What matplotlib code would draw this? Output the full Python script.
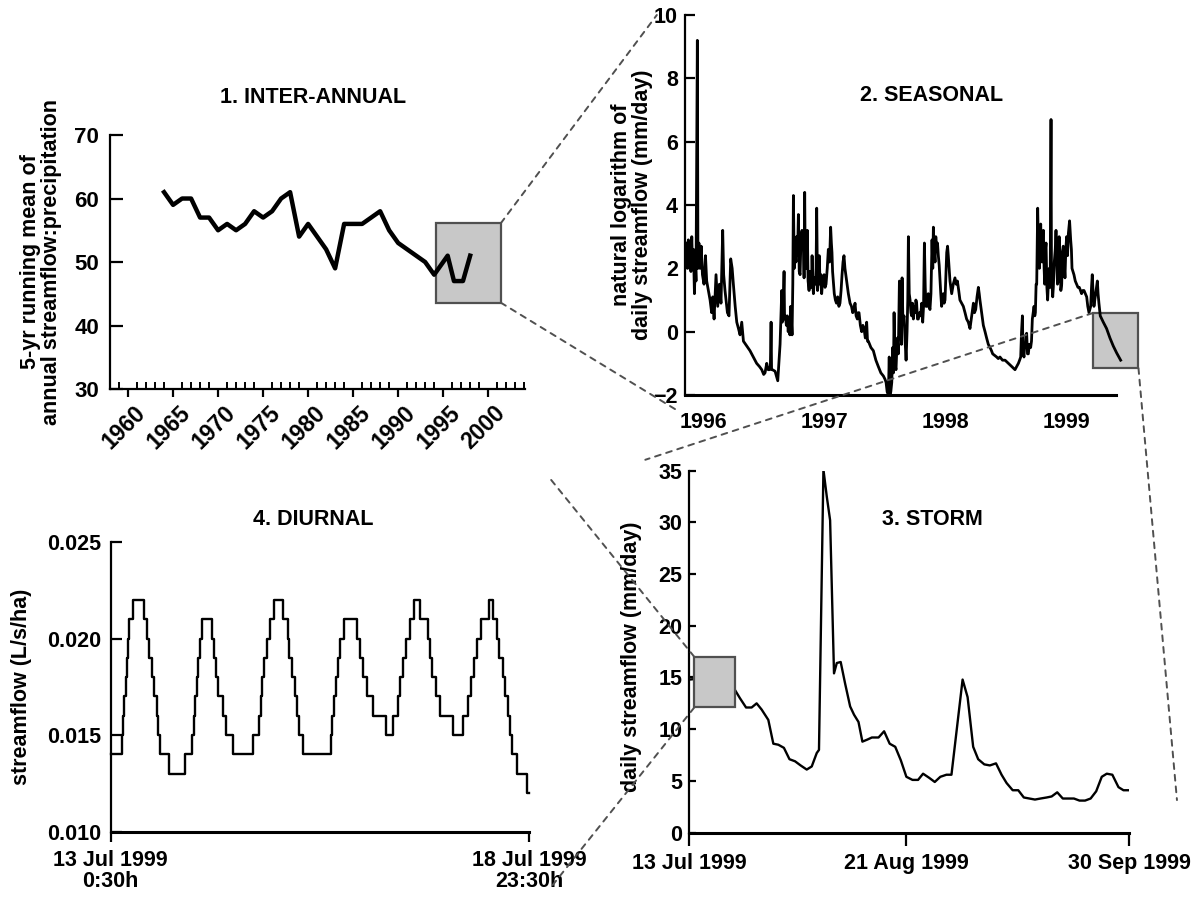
# -*- coding: utf-8 -*-
# Escalas temporales del caudal: inter-anual, estacional, tormenta y diurna

import matplotlib
matplotlib.use('Agg')
import matplotlib.pyplot as plt
import matplotlib.transforms as mtransforms
from matplotlib.patches import Rectangle, ConnectionPatch
from matplotlib.ticker import MultipleLocator

plt.rcParams['font.family'] = ['Liberation Sans', 'DejaVu Sans']
plt.rcParams['font.weight'] = 'bold'
plt.rcParams['axes.labelweight'] = 'bold'
plt.rcParams['font.size'] = 15.5
plt.rcParams['axes.linewidth'] = 1.6

# ---------------- datos ----------------
# 1. inter-anual: media movil de 5 anios (caudal:precipitacion)
anio_ia = [1964, 1965, 1966, 1967, 1968, 1969, 1970, 1971, 1972, 1973,
           1974, 1975, 1976, 1977, 1978, 1979, 1980, 1981, 1982, 1983,
           1984, 1985, 1986, 1987, 1988, 1989, 1990, 1991, 1992, 1993,
           1994, 1995.5, 1996.2, 1997.2, 1998]
razon_ia = [61, 59, 60, 60, 57, 57, 55, 56, 55, 56,
            58, 57, 58, 60, 61, 54, 56, 54, 52, 49,
            56, 56, 56, 57, 58, 55, 53, 52, 51, 50,
            48, 51, 47, 47, 51]

# 2. estacional: ln del caudal diario (mm/dia)
anio_es = [1995.865, 1995.872, 1995.879, 1995.886, 1995.893, 1995.900, 1995.907, 1995.914,
           1995.921, 1995.929, 1995.936, 1995.942, 1995.953, 1995.958, 1995.966, 1995.975,
           1995.985, 1995.995, 1996.008, 1996.020, 1996.030, 1996.044, 1996.058, 1996.071,
           1996.080, 1996.091, 1996.107, 1996.121, 1996.135, 1996.148, 1996.162, 1996.170,
           1996.181, 1996.201, 1996.214, 1996.228, 1996.240, 1996.250, 1996.265, 1996.278,
           1996.292, 1996.305, 1996.319, 1996.333, 1996.360, 1996.387, 1996.415, 1996.442,
           1996.465, 1996.484, 1996.500, 1996.511, 1996.525, 1996.537, 1996.547, 1996.555,
           1996.561, 1996.565, 1996.572, 1996.594, 1996.605, 1996.616, 1996.625, 1996.635,
           1996.642, 1996.649, 1996.653, 1996.660, 1996.668, 1996.672, 1996.679, 1996.687,
           1996.695, 1996.702, 1996.709, 1996.716, 1996.723, 1996.734, 1996.740, 1996.745,
           1996.752, 1996.760, 1996.766, 1996.772, 1996.779, 1996.786, 1996.793, 1996.800,
           1996.808, 1996.816, 1996.822, 1996.827, 1996.833, 1996.838, 1996.843, 1996.849,
           1996.855, 1996.860, 1996.866, 1996.874, 1996.881, 1996.888, 1996.894, 1996.899,
           1996.905, 1996.910, 1996.918, 1996.926, 1996.932, 1996.937, 1996.944, 1996.951,
           1996.958, 1996.965, 1996.972, 1996.978, 1996.986, 1996.998, 1997.006, 1997.014,
           1997.024, 1997.033, 1997.043, 1997.052, 1997.058, 1997.063, 1997.068, 1997.074,
           1997.082, 1997.091, 1997.100, 1997.110, 1997.120, 1997.129, 1997.138, 1997.146,
           1997.154, 1997.162, 1997.170, 1997.184, 1997.198, 1997.212, 1997.224, 1997.234,
           1997.244, 1997.253, 1997.262, 1997.272, 1997.279, 1997.286, 1997.297, 1997.308,
           1997.318, 1997.327, 1997.338, 1997.349, 1997.356, 1997.363, 1997.384, 1997.404,
           1997.425, 1997.445, 1997.466, 1997.487, 1997.500, 1997.509, 1997.518, 1997.528,
           1997.535, 1997.540, 1997.548, 1997.556, 1997.564, 1997.570, 1997.575, 1997.582,
           1997.591, 1997.597, 1997.602, 1997.610, 1997.619, 1997.625, 1997.630, 1997.636,
           1997.641, 1997.648, 1997.657, 1997.666, 1997.674, 1997.682, 1997.688, 1997.693,
           1997.700, 1997.707, 1997.714, 1997.720, 1997.727, 1997.734, 1997.741, 1997.748,
           1997.755, 1997.761, 1997.768, 1997.775, 1997.785, 1997.794, 1997.803, 1997.811,
           1997.818, 1997.825, 1997.832, 1997.838, 1997.844, 1997.851, 1997.857, 1997.864,
           1997.871, 1997.879, 1997.888, 1997.894, 1997.899, 1997.905, 1997.913, 1997.919,
           1997.926, 1997.933, 1997.940, 1997.947, 1997.954, 1997.960, 1997.967, 1997.974,
           1997.981, 1997.988, 1997.995, 1998.002, 1998.009, 1998.016, 1998.022, 1998.029,
           1998.036, 1998.043, 1998.050, 1998.063, 1998.077, 1998.087, 1998.097, 1998.108,
           1998.118, 1998.132, 1998.146, 1998.160, 1998.173, 1998.187, 1998.201, 1998.215,
           1998.229, 1998.238, 1998.248, 1998.259, 1998.270, 1998.277, 1998.283, 1998.297,
           1998.311, 1998.325, 1998.338, 1998.352, 1998.366, 1998.378, 1998.388, 1998.405,
           1998.421, 1998.434, 1998.448, 1998.469, 1998.490, 1998.504, 1998.517, 1998.531,
           1998.545, 1998.558, 1998.572, 1998.586, 1998.600, 1998.610, 1998.619, 1998.626,
           1998.633, 1998.638, 1998.646, 1998.652, 1998.657, 1998.663, 1998.668, 1998.675,
           1998.682, 1998.690, 1998.701, 1998.708, 1998.715, 1998.722, 1998.729, 1998.735,
           1998.740, 1998.746, 1998.751, 1998.759, 1998.766, 1998.773, 1998.779, 1998.784,
           1998.790, 1998.795, 1998.801, 1998.806, 1998.812, 1998.817, 1998.823, 1998.828,
           1998.835, 1998.841, 1998.848, 1998.855, 1998.862, 1998.869, 1998.873, 1998.877,
           1998.883, 1998.888, 1998.896, 1998.904, 1998.910, 1998.916, 1998.922, 1998.929,
           1998.936, 1998.943, 1998.950, 1998.957, 1998.963, 1998.970, 1998.977, 1998.984,
           1998.991, 1998.998, 1999.005, 1999.012, 1999.022, 1999.031, 1999.037, 1999.042,
           1999.050, 1999.058, 1999.069, 1999.080, 1999.091, 1999.102, 1999.112, 1999.121,
           1999.131, 1999.141, 1999.152, 1999.163, 1999.172, 1999.182, 1999.189, 1999.196,
           1999.203, 1999.209, 1999.216, 1999.223, 1999.230, 1999.237, 1999.244, 1999.251,
           1999.257, 1999.264, 1999.275, 1999.300, 1999.327, 1999.355, 1999.382, 1999.410,
           1999.443]
lnq_es = [2.8, 2.0, 2.9, 2.1, 2.7, 1.9, 3.0, 2.0,
          2.6, 1.2, 2.2, 1.6, 9.2, 2.0, 2.8, 2.0,
          2.7, 1.8, 1.5, 2.4, 1.6, 1.3, 1.0, 0.6,
          1.1, 0.4, 1.8, 0.8, 1.5, 0.9, 3.2, 1.8,
          1.3, 0.6, 0.5, 2.3, 2.0, 1.5, 0.8, 0.3,
          0.1, -0.1, 0.3, -0.3, -0.45, -0.6, -0.8, -1.0,
          -1.1, -1.2, -1.35, -1.3, -1.0, -1.2, -1.2, -1.1,
          0.3, -1.2, -1.2, -1.25, -1.4, -1.55, -1.0, -0.4,
          0.4, 1.3, 0.3, 0.6, 1.9, 0.4, 0.5, 0.2,
          0.5, 0.0, 0.3, -0.1, 0.8, -0.1, 1.5, 4.3,
          2.0, 2.6, 2.2, 3.0, 2.4, 3.7, 1.9, 1.8,
          3.0, 3.2, 2.6, 3.0, 1.7, 4.4, 2.0, 2.0,
          2.8, 3.2, 1.6, 1.3, 1.9, 1.8, 1.4, 2.4,
          1.5, 1.2, 1.7, 1.5, 2.0, 3.9, 1.3, 1.6,
          2.4, 1.5, 1.8, 1.2, 1.6, 1.8, 1.4, 1.5,
          2.0, 2.6, 2.2, 3.3, 2.8, 2.5, 1.9, 1.6,
          1.2, 1.0, 0.9, 1.1, 0.8, 0.9, 1.3, 1.8,
          2.2, 2.4, 2.0, 1.6, 1.2, 0.9, 0.8, 0.6,
          0.7, 0.9, 0.5, 0.4, 0.6, 0.6, 0.2, 0.0,
          0.2, 0.1, -0.2, 0.3, -0.3, -0.3, -0.5, -0.6,
          -0.9, -1.1, -1.3, -1.4, -1.5, -1.6, -1.9, -2.0,
          -0.8, -2.0, -1.9, -1.6, -0.5, -1.3, 0.6, -1.0,
          -1.2, -0.6, -0.2, -0.7, 1.6, 0.0, 0.2, -0.4,
          1.7, 0.3, 0.5, -0.3, -0.9, 0.0, 1.0, 3.0,
          1.2, 1.0, 0.6, 0.5, 0.9, 0.4, 0.8, 0.6,
          1.0, 0.9, 0.4, 0.4, 0.6, 0.5, 0.9, 0.3,
          0.8, 2.8, 1.4, 0.8, 1.0, 0.8, 1.2, 0.8,
          0.7, 1.2, 2.9, 2.0, 3.3, 2.6, 2.2, 3.0,
          2.6, 2.8, 2.4, 2.1, 1.6, 1.2, 0.8, 1.0,
          1.2, 0.9, 1.0, 1.8, 2.5, 2.7, 2.4, 2.0,
          1.6, 1.4, 1.2, 1.5, 1.7, 1.5, 1.6, 1.3,
          1.0, 0.9, 0.8, 0.6, 0.4, 0.3, 0.1, 0.5,
          0.9, 0.6, 0.7, 1.1, 1.4, 1.2, 1.0, 0.6,
          0.2, 0.0, -0.2, -0.4, -0.5, -0.6, -0.7, -0.75,
          -0.8, -0.85, -0.8, -0.9, -0.9, -0.95, -1.0, -1.05,
          -1.1, -1.15, -1.2, -1.1, -1.0, -0.9, -0.8, 0.0,
          0.5, -0.6, -0.8, -0.4, -0.5, -0.1, -0.05, -0.7,
          -0.7, -0.4, -0.5, -0.3, 0.4, 0.6, 0.8, 0.5,
          0.6, 1.5, 1.5, 3.9, 2.5, 2.0, 3.0, 3.4,
          2.4, 2.2, 3.1, 3.2, 2.0, 1.5, 2.6, 2.8,
          1.4, 1.0, 1.6, 2.0, 1.4, 6.7, 1.5, 1.5,
          1.1, 1.4, 2.2, 2.6, 3.2, 2.4, 1.5, 1.6,
          3.0, 2.4, 1.3, 1.5, 2.5, 2.7, 2.2, 1.7,
          2.6, 3.0, 2.4, 3.1, 3.5, 2.9, 2.6, 2.0,
          1.9, 1.8, 1.6, 1.5, 1.4, 1.4, 1.3, 1.2,
          1.3, 1.3, 1.2, 1.1, 0.8, 0.6, 0.7, 0.8,
          1.4, 1.8, 1.2, 0.8, 1.0, 1.2, 1.4, 1.6,
          1.2, 0.9, 0.5, 0.3, 0.1, -0.2, -0.45, -0.67,
          -0.9]
anios_es = [1996, 1997, 1998, 1999]

# 3. tormenta: caudal diario (mm/dia), dias desde el 13 Jul 1999
dia_to = [0, 4, 8.2, 9.1, 10.2, 11.2, 12.1, 13.0, 14.2, 15.1,
          16.0, 17.0, 18.0, 19.0, 20.0, 21.1, 22.0, 22.9, 23.3, 24.1,
          24.7, 25.3, 26.0, 26.5, 27.2, 28.0, 28.9, 29.6, 30.4, 31.1,
          32.0, 32.8, 34.0, 35.0, 36.0, 37.0, 38.0, 39.0, 40.1, 41.1,
          42.0, 43.1, 44.1, 45.1, 46.2, 47.1, 49.1, 50.0, 51.0,
          51.9, 53.0, 54.0, 55.1, 56.1, 57.0, 58.1, 59.1, 60.1, 61.1,
          62.1, 63.1, 64.2, 65.1, 66.1, 67.1, 68.1, 69.1, 70.1, 71.1,
          72.1, 73.1, 74.1, 75.0, 76.0, 77.1, 78.0, 79.0]
q_to = [14.8, 15.0, 13.8, 13.0, 12.1, 12.1, 12.5, 11.9, 10.9, 8.6,
        8.5, 8.2, 7.1, 6.9, 6.5, 6.1, 6.4, 7.7, 8.0, 35.1,
        32.5, 30.2, 15.4, 16.4, 16.5, 14.4, 12.2, 11.4, 10.7, 8.8,
        9.0, 9.2, 9.2, 9.8, 8.6, 8.3, 7.0, 5.4, 5.1, 5.1,
        5.7, 5.3, 4.9, 5.4, 5.6, 5.6, 14.8, 13.1, 8.3,
        7.1, 6.6, 6.5, 6.7, 5.6, 4.8, 4.1, 4.1, 3.4, 3.3,
        3.2, 3.3, 3.4, 3.5, 3.9, 3.3, 3.3, 3.3, 3.1, 3.1,
        3.3, 4.0, 5.4, 5.7, 5.6, 4.4, 4.1, 4.1]
fechas_to = ['13 Jul 1999', '21 Aug 1999', '30 Sep 1999']
dias_fechas_to = [0, 39, 79]

# 4. diurno: caudal (L/s/ha), horas desde 13 Jul 1999 0:30h (escalones)
hora_di = [0.0, 3.76, 4.22, 4.67, 5.13, 5.58, 5.93, 6.38, 7.52,
           11.28, 12.53, 13.10, 14.24, 14.70, 15.84, 16.29, 16.98, 19.94,
           25.30, 27.69, 28.37, 28.94, 29.40, 29.85, 30.54, 31.11,
           34.75, 35.32, 36.01, 36.80, 38.51, 39.31, 41.93,
           48.54, 50.82, 51.28, 51.85, 52.53, 53.33, 54.47, 55.83,
           58.80, 60.51, 61.08, 61.87, 63.01, 63.81, 64.49, 65.86,
           75.21, 75.78, 76.34, 77.03, 77.60, 78.40, 79.88,
           84.32, 85.23, 86.37, 87.51, 89.79, 94.12,
           96.63, 98.34, 98.91, 99.82, 100.96, 102.32, 103.69,
           105.74, 108.59, 109.16, 109.96, 111.21, 112.58, 116.91,
           120.56, 122.27, 123.06, 124.20, 125.11, 126.48, 129.44,
           130.58, 132.18, 132.86, 134.00, 134.91, 135.71, 136.51, 137.31, 139.02,
           142.4, 143.0]
q_di = [0.014, 0.015, 0.016, 0.017, 0.018, 0.019, 0.020, 0.021, 0.022,
        0.021, 0.020, 0.019, 0.018, 0.017, 0.016, 0.015, 0.014, 0.013,
        0.014, 0.015, 0.016, 0.017, 0.018, 0.019, 0.020, 0.021,
        0.020, 0.019, 0.018, 0.017, 0.016, 0.015, 0.014,
        0.015, 0.016, 0.017, 0.018, 0.019, 0.020, 0.021, 0.022,
        0.021, 0.020, 0.019, 0.018, 0.017, 0.016, 0.015, 0.014,
        0.015, 0.016, 0.017, 0.018, 0.019, 0.020, 0.021,
        0.020, 0.019, 0.018, 0.017, 0.016, 0.015,
        0.016, 0.017, 0.018, 0.019, 0.020, 0.021, 0.022,
        0.021, 0.020, 0.019, 0.018, 0.017, 0.016, 0.015,
        0.016, 0.017, 0.018, 0.019, 0.020, 0.021, 0.022,
        0.021, 0.020, 0.019, 0.018, 0.017, 0.016, 0.015, 0.014, 0.013,
        0.012, 0.012]
fechas_di = ['13 Jul 1999\n0:30h', '18 Jul 1999\n23:30h']
horas_fechas_di = [0, 143]

# ventanas de zoom (x0, x1, y0, y1) en unidades de cada panel
caja_ia = (1994.15, 2001.4, 43.6, 56.1)
caja_es = (1999.215, 1999.59, -1.15, 0.59)
caja_to = (0.9, 8.2, 12.1, 17.0)

gris_caja = '#c8c8c8'
gris_borde = '#505050'
gris_guion = '#505050'


def limpiar(ax):
    ax.spines['top'].set_visible(False)
    ax.spines['right'].set_visible(False)


def caja(ax, c, zorder):
    r = Rectangle((c[0], c[2]), c[1] - c[0], c[3] - c[2], facecolor=gris_caja,
                  edgecolor=gris_borde, lw=1.6, zorder=zorder, clip_on=False)
    ax.add_patch(r)


fig = plt.figure(figsize=(11.95, 8.99), dpi=100)

# ---------------- 1. INTER-ANNUAL ----------------
ax1 = fig.add_axes([0.0921, 0.5673, 0.3473, 0.2825])
limpiar(ax1)
caja(ax1, caja_ia, 1)
ax1.plot(anio_ia, razon_ia, color='k', lw=3.2, zorder=3)
ax1.set_xlim(1958, 2004.1)
ax1.set_ylim(30, 70)
ax1.set_yticks([30, 40, 50, 60, 70])
ax1.set_xticks(range(1960, 2001, 5))
ax1.xaxis.set_minor_locator(MultipleLocator(1))
ax1.tick_params(axis='y', direction='in', length=9, width=1.6, pad=8, labelsize=16)
ax1.tick_params(axis='x', which='major', direction='out', length=6, width=1.6, pad=3)
ax1.tick_params(axis='x', which='minor', direction='in', length=5, width=1.4)
ax1.set_xticklabels([str(a) for a in range(1960, 2001, 5)], rotation=45,
                    ha='right', va='top', rotation_mode='anchor', fontsize=16.5)
desplaza = mtransforms.ScaledTranslation(4 / 72, 0, fig.dpi_scale_trans)
for lbl in ax1.get_xticklabels():
    lbl.set_transform(lbl.get_transform() + desplaza)
ax1.set_ylabel('5-yr running mean of\nannual streamflow:precipitation', linespacing=1.0)
ax1.yaxis.set_label_coords(-0.116, 0.5)
ax1.text(0.489, 1.146, '1. INTER-ANNUAL', transform=ax1.transAxes,
         ha='center', va='center')

# ---------------- 2. SEASONAL ----------------
ax2 = fig.add_axes([0.5732, 0.5606, 0.3799, 0.4227])
limpiar(ax2)
caja(ax2, caja_es, 1)
ax2.plot(anio_es, lnq_es, color='k', lw=2.0, zorder=3, clip_on=False)
ax2.set_xlim(1995.851, 1999.594)
ax2.set_ylim(-2, 10)
ax2.spines['bottom'].set_bounds(1995.851, 1999.405)
ax2.spines['bottom'].set_linewidth(2.2)
ax2.set_yticks(range(-2, 11, 2))
ax2.set_xticks(anios_es)
ax2.tick_params(axis='y', direction='in', length=7, width=1.6, pad=5)
ax2.tick_params(axis='x', length=0, pad=12)
ax2.set_ylabel('natural logarithm of\ndaily streamflow (mm/day)', linespacing=1.0)
ax2.yaxis.set_label_coords(-0.070, 0.5)
ax2.text(0.544, 0.787, '2. SEASONAL', transform=ax2.transAxes,
         ha='center', va='center')

# ---------------- 3. STORM ----------------
ax3 = fig.add_axes([0.5768, 0.0738, 0.3680, 0.4027])
limpiar(ax3)
ax3.plot(dia_to, q_to, color='k', lw=1.7, zorder=2)
caja(ax3, caja_to, 3)
ax3.set_xlim(0, 79)
ax3.set_ylim(0, 35)
ax3.set_yticks(range(0, 36, 5))
ax3.set_xticks(dias_fechas_to)
ax3.set_xticklabels(fechas_to)
ax3.spines['bottom'].set_linewidth(2.2)
ax3.tick_params(axis='y', direction='in', length=5, width=1.6, pad=5)
ax3.tick_params(axis='x', direction='out', length=9, width=1.6, pad=6)
ax3.set_ylabel('daily streamflow (mm/day)')
ax3.yaxis.set_label_coords(-0.108, 0.485)
ax3.text(0.554, 0.864, '3. STORM', transform=ax3.transAxes,
         ha='center', va='center')

# ---------------- 4. DIURNAL ----------------
ax4 = fig.add_axes([0.0926, 0.0749, 0.3500, 0.3222])
limpiar(ax4)
ax4.step(hora_di, q_di, where='post', color='k', lw=1.7, clip_on=False)
ax4.set_xlim(0, 143)
ax4.set_ylim(0.010, 0.025)
ax4.set_yticks([0.010, 0.015, 0.020, 0.025])
ax4.set_yticklabels(['0.010', '0.015', '0.020', '0.025'])
ax4.set_xticks(horas_fechas_di)
ax4.set_xticklabels(fechas_di, linespacing=1.0)
ax4.spines['bottom'].set_linewidth(2.2)
ax4.tick_params(axis='y', direction='in', length=8, width=1.6, pad=7)
ax4.tick_params(axis='x', direction='out', length=7, width=1.6, pad=6)
ax4.set_ylabel('streamflow (L/s/ha)')
ax4.yaxis.set_label_coords(-0.189, 0.5)
ax4.text(0.484, 1.076, '4. DIURNAL', transform=ax4.transAxes,
         ha='center', va='center')

# ---------------- lineas de zoom ----------------
enlaces = [
    ((caja_ia[1], caja_ia[3]), ax1, (-0.062, 1.0), ax2),
    ((caja_ia[1], caja_ia[2]), ax1, (-0.011, -0.045), ax2),
    ((caja_es[0], caja_es[3]), ax2, (-0.10, 1.03), ax3),
    ((caja_es[1], caja_es[2]), ax2, (1.109, 0.09), ax3),
    ((caja_to[0], caja_to[3]), ax3, (1.05, 1.22), ax4),
    ((caja_to[0], caja_to[2]), ax3, (1.057, -0.184), ax4),
]
for pA, axA, pB, axB in enlaces:
    con = ConnectionPatch(xyA=pA, coordsA=axA.transData, xyB=pB, coordsB=axB.transAxes,
                          color=gris_guion, lw=1.4, linestyle=(0, (3, 3)), zorder=10)
    fig.add_artist(con)

fig.savefig('out.png', dpi=100)
